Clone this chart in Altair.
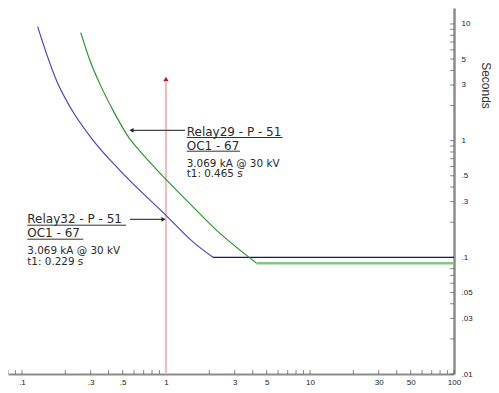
import altair as alt
import pandas as pd

# ---- data ----
blue_x = [0.1285, 0.1484, 0.174, 0.2154, 0.313, 0.480, 1.0, 1.547, 2.12]
blue_t = [9.48, 5.51, 3.26, 1.95, 1.0, 0.554, 0.229, 0.135, 0.1]
blue_flat_x = [2.12, 100]
blue_flat_t = [0.1, 0.1]

green_x = [0.256, 0.297, 0.348, 0.431, 0.562, 0.626, 1.0, 1.547, 2.25, 4.26]
green_t = [8.43, 4.83, 3.05, 1.80, 1.03, 0.877, 0.465, 0.269, 0.170, 0.089]
green_flat_x = [4.26, 100]
green_flat_t = [0.089, 0.089]

fault_current = [1.0]

x_ticks = [0.08, 0.09] + [m * 10 ** e for e in (-1, 0, 1) for m in range(1, 10)] + [100]
y_ticks = [m * 10 ** e for e in (-2, -1, 0) for m in range(1, 10)] + [10]
x_labels = [0.1, 0.3, 0.5, 1, 3, 5, 10, 30, 50, 100]
y_labels = [0.01, 0.03, 0.05, 0.1, 0.3, 0.5, 1, 3, 5, 10]

relay29_lines = ["Relay29 - P - 51", "OC1 - 67", "3.069 kA @ 30 kV", "t1: 0.465 s"]
relay32_lines = ["Relay32 - P - 51", "OC1 - 67", "3.069 kA @ 30 kV", "t1: 0.229 s"]
y_title = "Seconds"

# ---- layout ----
W, H = 446, 366
FONT = "Liberation Sans"
TFONT = "DejaVu Sans"
LABEL_EXPR = ("datum.value < 1 ? substring(format(datum.value, '~g'), 1) "
              ": format(datum.value, '~g')")

xscale = alt.Scale(type="log", domain=[0.08, 100], nice=False, zero=False)
yscale = alt.Scale(type="log", domain=[0.01, 13.7], nice=False, zero=False)

xaxis = alt.Axis(orient="bottom", values=x_labels, labelExpr=LABEL_EXPR, ticks=False,
                 tickSize=0, grid=False, domainColor="#8c8c8c", domainWidth=2,
                 labelFont=FONT, labelFontSize=8, labelColor="#222", labelPadding=4,
                 labelOverlap=False, labelFlush=False, title=None)
yaxis = alt.Axis(orient="right", values=y_labels, labelExpr=LABEL_EXPR, ticks=False,
                 tickSize=0, grid=False, domainColor="#8c8c8c", domainWidth=2.5,
                 labelFont=FONT, labelFontSize=8, labelColor="#222", labelPadding=7,
                 labelOverlap=False, labelFlush=False, labelBaseline="middle",
                 title=y_title, titleAngle=90, titleX=31, titleY=77, titleAlign="center",
                 titleBaseline="middle", titleFont=FONT, titleFontSize=12,
                 titleFontWeight="normal", titleColor="#333")


def X():
    return alt.X("I:Q", scale=xscale, axis=xaxis)


def Y():
    return alt.Y("t:Q", scale=yscale, axis=yaxis)


def line(xs, ts, color, width, interp="linear"):
    df = pd.DataFrame({"I": xs, "t": ts})
    return alt.Chart(df).mark_line(color=color, strokeWidth=width, clip=True,
                                   interpolate=interp).encode(x=X(), y=Y())


layers = []

# manual inward ticks
layers.append(alt.Chart(pd.DataFrame({"I": x_ticks})).mark_tick(
    color="#555", size=4, thickness=1).encode(x=X(), y=alt.value(H - 2)))
layers.append(alt.Chart(pd.DataFrame({"t": y_ticks})).mark_tick(
    color="#555", size=4, thickness=1).encode(y=Y(), x=alt.value(W - 2)))

# fault current marker line
layers.append(alt.Chart(pd.DataFrame({"I": fault_current})).mark_rule(
    color="#e8c2c2", strokeWidth=2.2).encode(x=X(), y=alt.value(74), y2=alt.value(H)))
layers.append(alt.Chart(pd.DataFrame({"I": fault_current})).mark_point(
    shape="triangle-up", filled=True, color="#b01818", size=28, opacity=1).encode(
    x=X(), y=alt.value(71)))

# curves
layers.append(line(blue_x, blue_t, "#4848b8", 1.2, "monotone"))
layers.append(line(blue_flat_x, blue_flat_t, "#14147a", 1.3))
layers.append(line(green_x, green_t, "#2f932f", 1.2, "monotone"))
layers.append(line(green_flat_x, green_flat_t, "#86c486", 2.4))

dummy = pd.DataFrame({"k": [0]})


def hrule(x0, x1, y, color="#333", w=1.0):
    return alt.Chart(dummy).mark_rule(color=color, strokeWidth=w).encode(
        x=alt.value(x0), x2=alt.value(x1), y=alt.value(y))


def arrowhead(x, y, shape):
    return alt.Chart(dummy).mark_point(shape=shape, filled=True, color="#222", size=22,
                                       opacity=1).encode(x=alt.value(x), y=alt.value(y))


def txt(s, x, y, size):
    return alt.Chart(pd.DataFrame({"s": [s]})).mark_text(
        align="left", baseline="alphabetic", font=TFONT, fontSize=size, color="#2a2a2a").encode(
        text="s:N", x=alt.value(x), y=alt.value(y))


HS, DS = 12, 10.4

# Relay29 annotation
layers.append(hrule(124, 177, 122.3, "#444", 1.2))
layers.append(arrowhead(123.5, 122.3, "triangle-left"))
layers.append(txt(relay29_lines[0], 178.7, 127.8, HS))
layers.append(hrule(178.7, 274.7, 129.5))
layers.append(txt(relay29_lines[1], 178.7, 141.6, HS))
layers.append(hrule(178.7, 232, 143.2))
layers.append(txt(relay29_lines[2], 178.7, 158.6, DS))
layers.append(txt(relay29_lines[3], 178.7, 169.1, DS))

# Relay32 annotation
layers.append(hrule(122, 155, 211.3, "#444", 1.2))
layers.append(arrowhead(155.5, 211.3, "triangle-right"))
layers.append(txt(relay32_lines[0], 19.3, 215.2, HS))
layers.append(hrule(19.3, 118, 217.2))
layers.append(txt(relay32_lines[1], 19.3, 229, HS))
layers.append(hrule(19.3, 75.3, 231.2))
layers.append(txt(relay32_lines[2], 19.3, 246.2, DS))
layers.append(txt(relay32_lines[3], 19.3, 256.7, DS))

chart = alt.layer(*layers).properties(
    width=W, height=H, background="white",
    autosize=alt.AutoSizeParams(type="none"),
    padding={"left": 0, "top": 0, "right": 37, "bottom": 11},
).configure_view(stroke=None)

chart.save("out.html", embed_options={"renderer": "svg", "actions": False})
